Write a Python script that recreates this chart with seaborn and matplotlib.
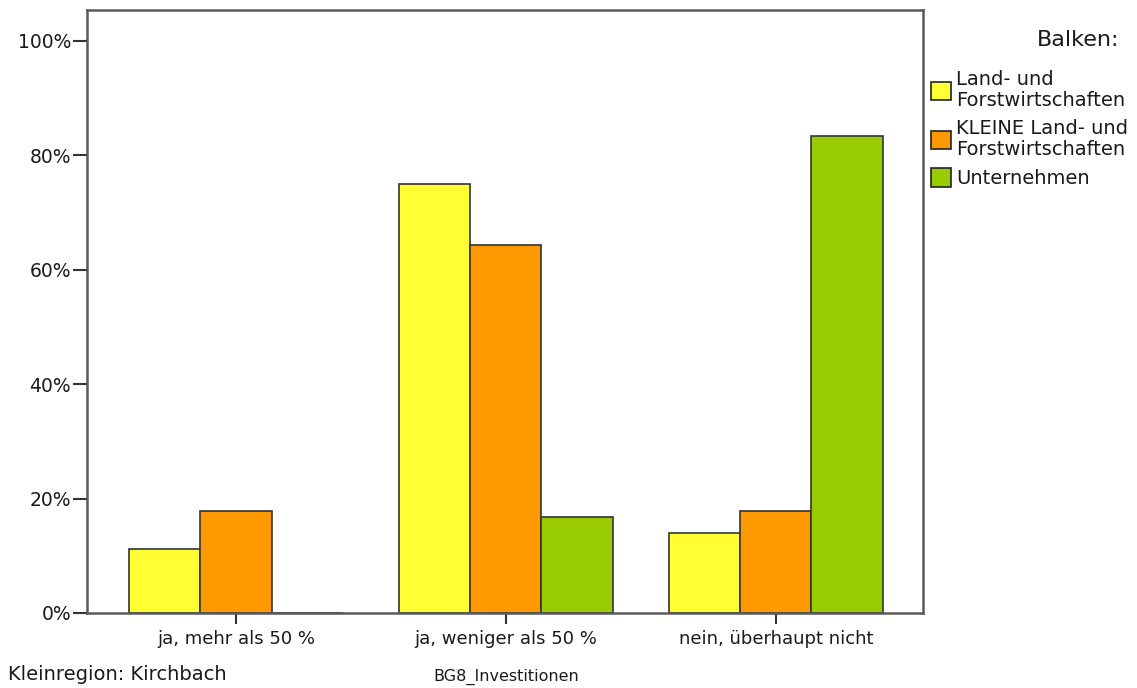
import matplotlib
matplotlib.use("Agg")
import matplotlib.pyplot as plt
import matplotlib.patches as mpatches
from matplotlib.ticker import FuncFormatter
import seaborn as sns
import pandas as pd

categories = ["ja, mehr als 50 %", "ja, weniger als 50 %", "nein, überhaupt nicht"]
series_names = ["Land- und\nForstwirtschaften", "KLEINE Land- und\nForstwirtschaften", "Unternehmen"]
land_forst = [11.1, 75.0, 13.9]
kleine_land_forst = [17.8, 64.4, 17.8]
unternehmen = [0.0, 16.7, 83.3]
colors = ["#FFFF33", "#FF9900", "#99CC00"]
y_ticks = [0, 20, 40, 60, 80, 100]

rows = []
for name, vals in zip(series_names, [land_forst, kleine_land_forst, unternehmen]):
    for c, v in zip(categories, vals):
        rows.append({"cat": c, "series": name, "value": v})
df = pd.DataFrame(rows)

sns.set_theme(style="white")
plt.rcParams['font.family'] = ['DejaVu Sans']

fig = plt.figure(figsize=(11.37, 6.88), dpi=100)
ax = fig.add_axes([87/1137, 75/688, (923-87)/1137, (613-10)/688])

sns.barplot(data=df, x="cat", y="value", hue="series", order=categories,
            hue_order=series_names, palette=colors, width=0.79, gap=0,
            edgecolor="#333333", linewidth=1.2, saturation=1, ax=ax, legend=False)

ax.set_xlim(-0.552, 2.545)
ax.set_ylim(0, 105.4)
ax.set_yticks(y_ticks)
ax.yaxis.set_major_formatter(FuncFormatter(lambda v, p: f"{int(v)}%"))
ax.set_xlabel("")
ax.set_ylabel("")
for s in ax.spines.values():
    s.set_visible(True)
    s.set_color("#5a5a5a")
    s.set_linewidth(1.8)
ax.tick_params(axis="both", which="both", direction="out", width=1.5,
               color="#333333", labelsize=13, labelcolor="#1a1a1a",
               left=True, bottom=True)
ax.tick_params(axis="y", length=10, pad=1.5, labelsize=13.5)
ax.tick_params(axis="x", length=8, pad=4)

handles = [mpatches.Patch(facecolor=c, edgecolor="#222222", linewidth=1.2) for c in colors]
leg = fig.legend(handles, series_names, loc="upper left",
                 bbox_to_anchor=(931/1137, 1 - 70/688), frameon=False,
                 fontsize=14, handlelength=1.05, handleheight=1.1,
                 handletextpad=0.25, labelspacing=0.45, borderaxespad=0,
                 borderpad=0)
for t in leg.get_texts():
    t.set_color("#1a1a1a")
    t.set_linespacing(1.15)
fig.text(1119/1137, 1 - 40/688, "Balken:", ha="right", va="center", fontsize=16, color="#1a1a1a")

fig.text(8/1137, 1 - 674/688, "Kleinregion: Kirchbach", ha="left", va="center", fontsize=14, color="#1a1a1a")
fig.text(506/1137, 1 - 677/688, "BG8_Investitionen", ha="center", va="center", fontsize=11.5,
         color="#1a1a1a")

fig.savefig("out.png", dpi=100)
